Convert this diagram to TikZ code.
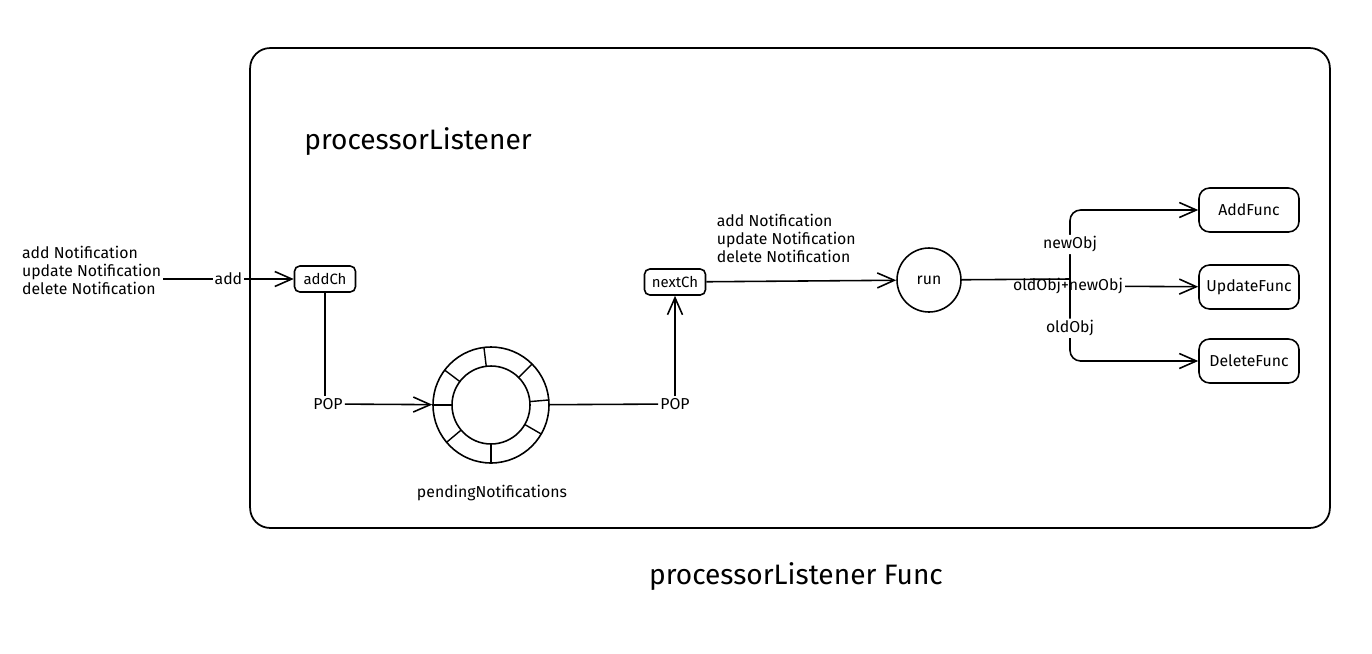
\documentclass[tikz,border=0pt]{standalone}
\usepackage{fontspec}
\setmainfont{Fira Sans}
\usetikzlibrary{arrows.meta,positioning,calc}

\begin{document}
\begin{tikzpicture}[
    x=0.02cm, y=-0.02cm,
    frame/.style={rectangle, draw, line width=1pt, rounded corners=0.4cm, minimum width=21.6cm, minimum height=9.6cm},
    chan/.style={rectangle, draw, line width=0.9pt, rounded corners=3pt, minimum width=1.22cm, minimum height=0.52cm, inner sep=1pt, font=\fontsize{8.5}{10}\selectfont},
    func/.style={rectangle, draw, line width=0.9pt, rounded corners=6pt, minimum width=2cm, minimum height=0.88cm, font=\fontsize{9}{11}\selectfont},
    lbl/.style={font=\fontsize{9}{10.2}\selectfont, align=left, inner sep=1pt},
    big/.style={font=\fontsize{16}{19}\selectfont},
    link/.style={line width=0.9pt, -},
    arr/.style={line width=0.9pt, -{Straight Barb[length=3.4mm,width=3mm]}},
]
    \useasboundingbox (0,0) rectangle (1372,653);

    % Listener frame
    \node[frame] (listener) at (790,288) {};
    \node[big] (title) at (418,142) {processorListener};
    \node[big] (caption) at (796,577) {processorListener Func};

    % Input side
    \node[lbl, anchor=west] (inputs) at (20,270) {add Notification\\update Notification\\delete Notification};
    \node[chan] (addch) at (325,279) {addCh};
    \draw[arr] (inputs.east |- addch) -- node[midway, fill=white, lbl] {add} (addch);

    % Pending ring buffer
    \node[circle, draw, line width=0.9pt, minimum size=2.32cm] (ring) at (491,405) {};
    \draw[line width=0.9pt] (ring.center) circle (0.78cm);
    \foreach \a in {97,45,5,-30,-90,-140,180,143}
        \draw[line width=0.8pt] ($(ring.center)+(\a:0.78cm)$) -- ($(ring.center)+(\a:1.16cm)$);
    \node[lbl] (pending) at (492,493) {pendingNotifications};

    \node[lbl] (pop1) at (328,404) {POP};
    \draw[link] (addch) -- (addch |- pop1.north);
    \draw[arr] (pop1) -- (ring);

    \node[lbl] (pop2) at (675,404) {POP};
    \node[chan] (nextch) at (675,282) {nextCh};
    \draw[link] (ring) -- (pop2);
    \draw[arr] (pop2) -- (nextch);

    % Dispatch
    \node[circle, draw, line width=0.9pt, minimum size=1.28cm, font=\fontsize{9}{11}\selectfont] (run) at (929,280) {run};
    \draw[arr] (nextch) -- node[midway, above=9pt, xshift=-0.3cm, lbl] {add Notification\\update Notification\\delete Notification} (run);

    \node[func] (addf) at (1249,210) {AddFunc};
    \node[func] (updf) at (1249,287) {UpdateFunc};
    \node[func] (delf) at (1249,361) {DeleteFunc};

    \coordinate (split) at (1070,279);
    \draw[link] (run) -- (split);
    \draw[arr, rounded corners=6pt] (split) |- node[pos=0.25, fill=white, lbl] {newObj} (addf);
    \draw[arr, rounded corners=6pt] (split) |- node[pos=0.3, fill=white, lbl] {oldObj} (delf);
    \node[lbl] (updlbl) at (1068,286) {oldObj+newObj};
    \draw[arr] (updlbl) -- (updf);
\end{tikzpicture}
\end{document}
